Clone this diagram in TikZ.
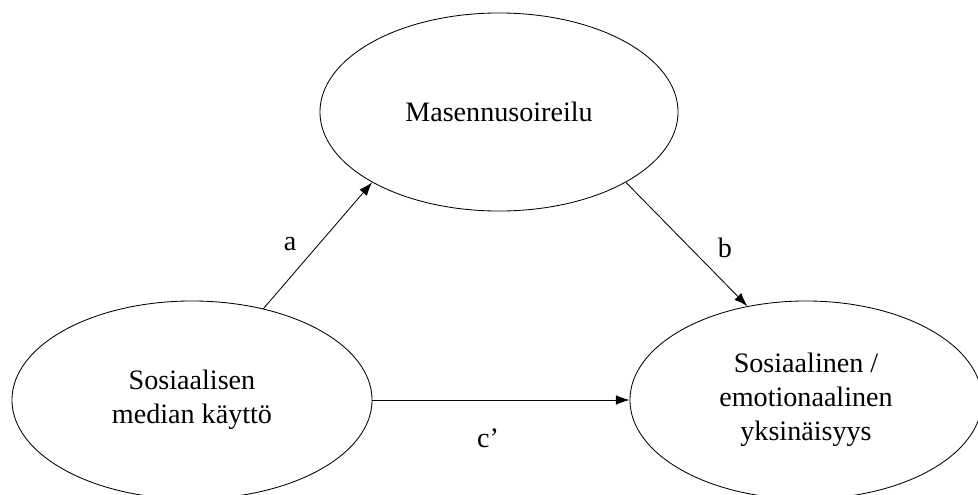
\documentclass[tikz,border=0pt]{standalone}
\usepackage{fontspec}
\setmainfont{Liberation Serif}
\usepackage{tikz}
\usetikzlibrary{arrows.meta,shapes.geometric,positioning}

\begin{document}
\begin{tikzpicture}[
  x=0.025cm, y=-0.025cm,
  latent/.style={ellipse, draw=black, line width=0.6pt, minimum height=4.95cm, inner sep=0pt, align=center, font=\fontsize{20}{24}\selectfont},
  path label/.style={font=\fontsize{20}{24}\selectfont, inner sep=1pt},
  effect/.style={line width=0.6pt, -{Latex[length=3.4mm, width=2.4mm]}}
]
  \useasboundingbox (0,0) rectangle (978,494);
  \clip (0,0) rectangle (978,494);
  \node[latent, minimum width=8.95cm] (M) at (499, 112) {Masennusoireilu};
  \node[latent, minimum width=9cm]    (X) at (192, 400) {Sosiaalisen\\median käyttö};
  \node[latent, minimum width=8.8cm]  (Y) at (806, 400) {Sosiaalinen /\\emotionaalinen\\yksinäisyys};
  % mediation paths a, b and direct effect c'
  \draw[effect] (X.52)   -- (M.209.5);
  \draw[effect] (M.-29.5) -- (Y.122);
  \draw[effect] (X.east) -- (Y.west);
  \node[path label] (la) at (290, 244) {a};
  \node[path label] (lb) at (725, 248) {b};
  \node[path label] (lc) at (488, 438) {c’};
\end{tikzpicture}
\end{document}
